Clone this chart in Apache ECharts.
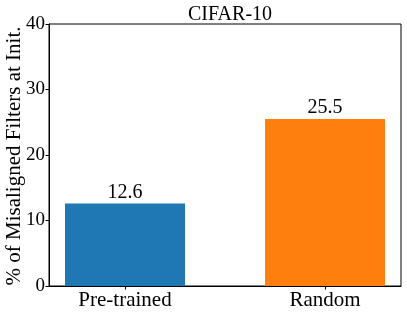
<!DOCTYPE html>
<html><head><meta charset="utf-8">
<script src="https://cdn.jsdelivr.net/npm/echarts@6/dist/echarts.min.js"></script>
<style>html,body{margin:0;padding:0;background:#fff}#c{width:407px;height:316px}</style>
</head><body><div id="c"></div>
<script>
const categories = ['Pre-trained', 'Random'];
const values = [12.6, 25.5];
const barColors = ['#1f77b4', '#ff7f0e'];
const yTicks = [0, 10, 20, 30, 40];
const titleText = 'CIFAR-10';
const yLabel = '% of Misaligned Filters at Init.';

const FONT = 'Liberation Serif';
const chart = echarts.init(document.getElementById('c'));
chart.setOption({
  animation: false,
  title: { text: titleText, left: 225, textAlign: 'center', top: 0, itemGap: 0,
    textStyle: { fontFamily: FONT, fontSize: 20, fontWeight: 'normal', color: '#000' } },
  graphic: [{
    type: 'text', x: 14, y: 156, rotation: Math.PI / 2,
    style: { text: yLabel, fontFamily: FONT, fontSize: 21, fill: '#000', align: 'center', verticalAlign: 'middle' }
  }],
  grid: { left: 49, right: 6, top: 24, bottom: 30, show: true, borderColor: '#000', borderWidth: 1,
    containLabel: false, outerBoundsMode: 'none' },
  xAxis: {
    type: 'value', min: -0.38, max: 1.38,
    splitLine: { show: false },
    axisLine: { onZero: false, lineStyle: { color: '#000', width: 1 } },
    axisTick: { show: true, length: 3.5, customValues: categories.map((_, i) => i), lineStyle: { color: '#000' } },
    axisLabel: { customValues: categories.map((_, i) => i), formatter: v => categories[Math.round(v)] || '',
      fontFamily: FONT, fontSize: 21, color: '#000', margin: 4 }
  },
  yAxis: {
    type: 'value', min: yTicks[0], max: yTicks[yTicks.length - 1], interval: 10,
    splitLine: { show: false },
    axisLine: { show: true, onZero: false, lineStyle: { color: '#000', width: 1 } },
    axisTick: { show: true, length: 3.5, lineStyle: { color: '#000' } },
    axisLabel: { fontFamily: FONT, fontSize: 19, color: '#000', margin: 4 }
  },
  series: [{
    type: 'bar', barWidth: 120,
    data: values.map((v, i) => ({ value: [i, v], itemStyle: { color: barColors[i] } })),
    label: { show: true, position: 'top', distance: 1, formatter: p => p.value[1].toFixed(1),
      fontFamily: FONT, fontSize: 20, color: '#000' }
  }]
});
</script></body></html>
